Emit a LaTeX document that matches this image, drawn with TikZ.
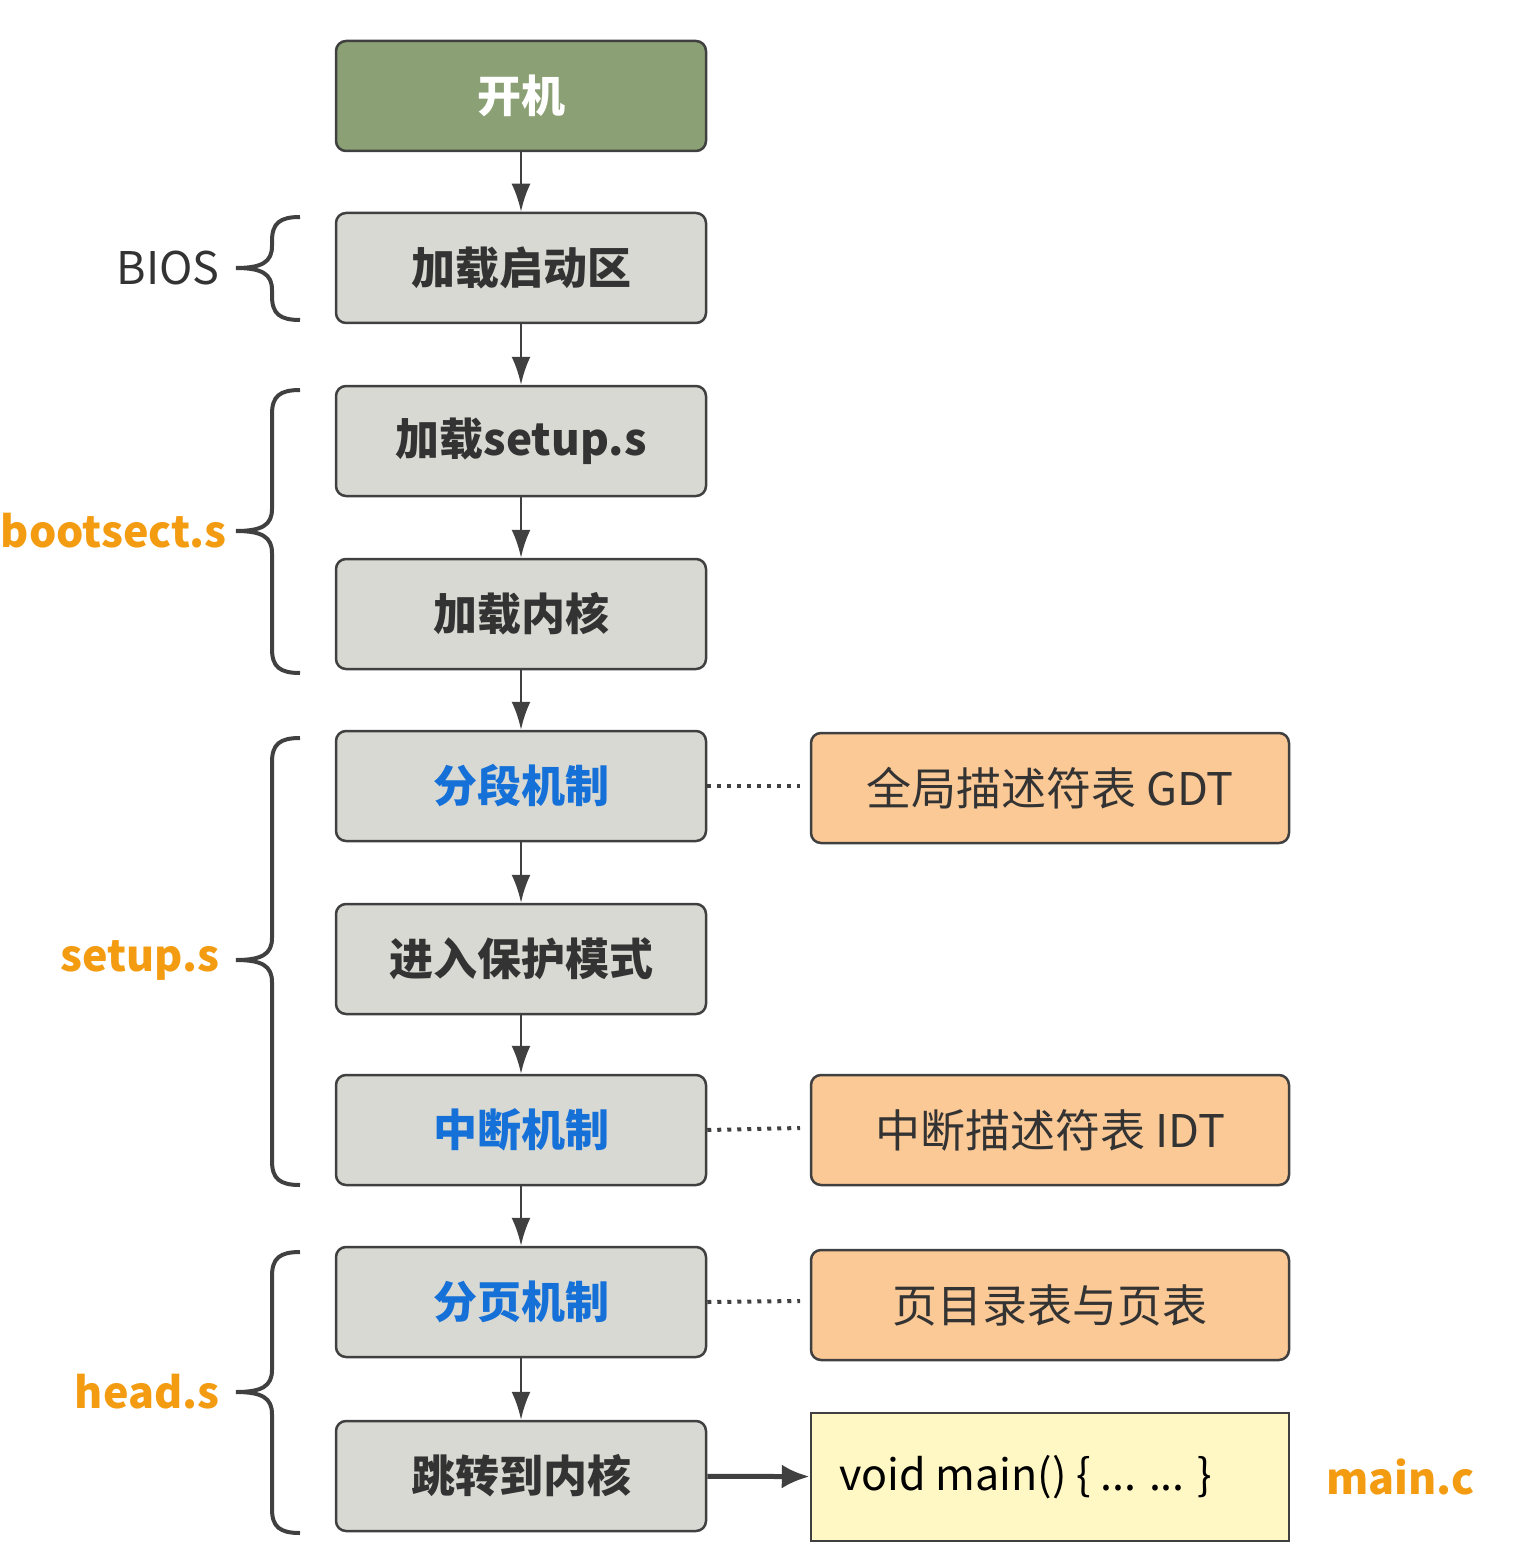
\documentclass[tikz,border=0pt]{standalone}
\usepackage{fontspec}
\usepackage{tikz}
\usetikzlibrary{arrows.meta,positioning}
\newfontfamily\cjk{Noto Sans CJK SC}
\definecolor{bootgreen}{RGB}{139,160,116}
\definecolor{stepgray}{RGB}{217,217,211}
\definecolor{tableorange}{RGB}{251,201,150}
\definecolor{codeyellow}{RGB}{255,248,197}
\definecolor{edgegray}{RGB}{64,64,64}
\definecolor{mechblue}{RGB}{21,112,216}
\definecolor{fileorange}{RGB}{243,156,18}
\definecolor{textgray}{RGB}{51,51,51}
% geschweifte Klammer: oben, Spitze, unten
\newcommand{\curl}[3]{%
  \draw[brace] (300,#1) .. controls (280,#1) and (272,#1+6) .. (272,#1+24)
    -- (272,#2-22) .. controls (272,#2-6) and (262,#2) .. (236,#2)
    .. controls (262,#2) and (272,#2+6) .. (272,#2+22)
    -- (272,#3-24) .. controls (272,#3-6) and (280,#3) .. (300,#3);}
\begin{document}
\begin{tikzpicture}[x=0.5pt, y=-0.5pt,
    >={Latex[length=14pt,width=9.5pt]},
    font=\cjk\fontsize{22.5}{26}\selectfont,
    stepbox/.style={draw=edgegray, line width=1.25pt, rounded corners=5pt,
      fill=stepgray, minimum width=185pt, minimum height=55pt,
      text=textgray, font=\cjk\bfseries\fontsize{22}{26}\selectfont},
    tablebox/.style={draw=edgegray, line width=1.25pt, rounded corners=5pt,
      fill=tableorange, minimum width=239pt, minimum height=55pt, text=textgray},
    flow/.style={->, draw=edgegray, line width=1.3pt},
    link/.style={draw=edgegray, line width=2pt, dash pattern=on 2pt off 3pt},
    brace/.style={draw=edgegray, line width=2pt},
    lbl/.style={anchor=east, inner xsep=0pt},
    file/.style={lbl, text=fileorange, font=\cjk\bfseries\fontsize{21.5}{26}\selectfont}]
  \useasboundingbox (0,0) rectangle (1513,1556);
  % Ablauf
  \node[stepbox, fill=bootgreen, text=white] (boot) at (521,96) {开机};
  \node[stepbox] (bootsec) at (521,268) {加载启动区};
  \node[stepbox] (setup) at (521,441) {加载setup.s};
  \node[stepbox] (kernel) at (521,614) {加载内核};
  \node[stepbox, text=mechblue] (seg) at (521,786) {分段机制};
  \node[stepbox] (prot) at (521,959) {进入保护模式};
  \node[stepbox, text=mechblue] (intr) at (521,1130) {中断机制};
  \node[stepbox, text=mechblue] (page) at (521,1302) {分页机制};
  \node[stepbox] (jump) at (521,1476) {跳转到内核};
  \foreach \a/\b in {boot/bootsec, bootsec/setup, setup/kernel, kernel/seg,
      seg/prot, prot/intr, intr/page, page/jump}
    \draw[flow] (\a) -- (\b);
  % Tabellen
  \node[tablebox] (gdt) at (1050,788) {全局描述符表 GDT};
  \node[tablebox] (idt) at (1050,1130) {中断描述符表 IDT};
  \node[tablebox] (pdt) at (1050,1305) {页目录表与页表};
  \node[draw=edgegray, line width=1.25pt, fill=codeyellow, inner xsep=14pt,
    minimum height=64pt, text=black, font=\cjk\fontsize{21.5}{26}\selectfont] (mainfn) at (1050,1477)
    {\makebox[211pt][l]{void main() \{ ... ... \}}};
  \coordinate (gdtend) at (800,786);
  \coordinate (idtend) at (800,1128);
  \coordinate (pdtend) at (800,1301);
  \draw[link] (seg.east) -- (gdtend);
  \draw[link] (intr.east) -- (idtend);
  \draw[link] (page.east) -- (pdtend);
  \draw[draw=edgegray, line width=2.5pt, -{Latex[length=14pt,width=12pt]}] (jump) -- (mainfn);
  % Klammern
  \curl{217}{268}{320}
  \curl{390}{531}{673}
  \curl{738}{960}{1185}
  \curl{1252}{1392}{1533}
  \node[lbl, text=textgray] (bios) at (220,268) {BIOS};
  \node[file] (bootlbl) at (227,531) {bootsect.s};
  \node[file] (setuplbl) at (220,960) {setup.s};
  \node[file] (headlbl) at (220,1392) {head.s};
  \node[file, anchor=west] (mainlbl) at (1326,1477) {main.c};
\end{tikzpicture}
\end{document}
